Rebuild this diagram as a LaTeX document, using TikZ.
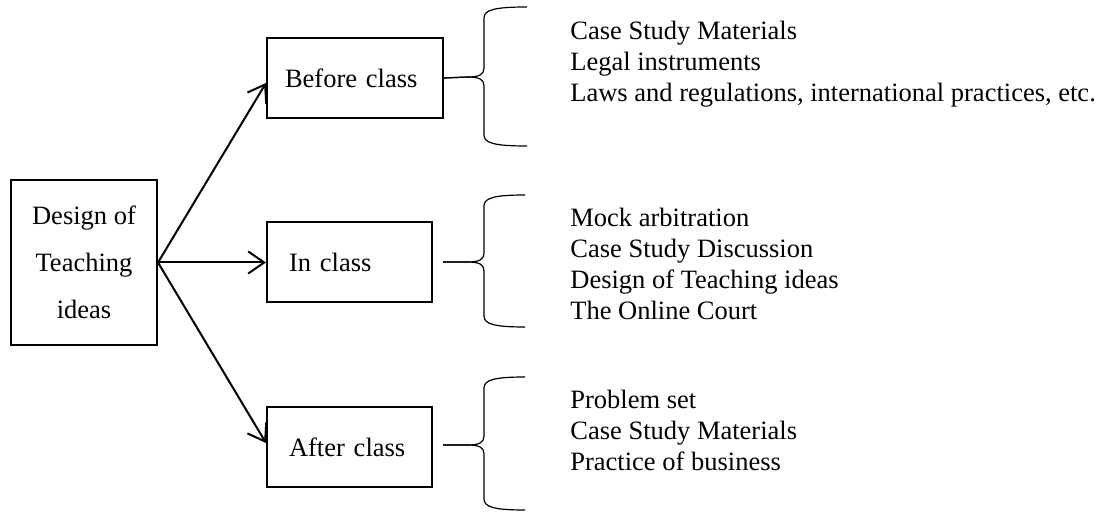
\documentclass[tikz,border=0pt]{standalone}
\usepackage{fontspec}
\setmainfont{Liberation Serif}
\usepackage{tikz}
\usetikzlibrary{arrows.meta, positioning}

\begin{document}
\begin{tikzpicture}[
  x=0.5pt, y=-0.5pt,
  every node/.style={font=\fontsize{13.25}{15.5}\selectfont},
  topic/.style={draw, line width=1pt, minimum width=73pt, minimum height=82.5pt,
                align=center, font=\fontsize{13.25}{23.5}\selectfont},
  stage/.style={draw, line width=1pt, minimum height=40pt, inner xsep=11pt, align=left},
  items/.style={anchor=base west, inner sep=0pt, align=left},
  arrow/.style={-{Straight Barb[length=8pt, width=11pt, line width=1pt]}, line width=1pt},
  brace/.style={line width=0.6pt}
]
\useasboundingbox (0,0) rectangle (1102,512);
\node[topic] (design) at (84,262.5) {Design of\\Teaching\\ideas};
\node[stage, text width=70pt, inner xsep=9pt] (before) at (355,78) {Before class};
\node[stage, text width=60.5pt] (in)     at (349.5,262.5) {In class};
\node[stage, text width=60.5pt] (after)  at (349.5,447) {After class};
\draw[arrow] (design.east) -- ([yshift=-2.5pt]before.west);
\draw[arrow] (design.east) -- (in.west);
\draw[arrow] (design.east) -- ([yshift=2pt]after.west);
% braces
\draw[brace] (before.east) -- (468,77) .. controls (480,77) and (484,74) .. (484,68) -- (484,18)
  .. controls (484,10) and (494,7) .. (527,7);
\draw[brace] (before.east) -- (468,77) .. controls (480,77) and (484,80) .. (484,86) -- (484,135)
  .. controls (484,143) and (494,146) .. (527,146);
\draw[brace] (443,262) -- (468,262) .. controls (480,262) and (484,259) .. (484,253) -- (484,206)
  .. controls (484,198) and (494,195) .. (525,195);
\draw[brace] (443,262) -- (468,262) .. controls (480,262) and (484,265) .. (484,271) -- (484,316)
  .. controls (484,324) and (494,327) .. (525,327);
\draw[brace] (443,445) -- (468,445) .. controls (480,445) and (484,442) .. (484,436) -- (484,388)
  .. controls (484,380) and (494,377) .. (525,377);
\draw[brace] (443,445) -- (468,445) .. controls (480,445) and (484,448) .. (484,454) -- (484,499)
  .. controls (484,507) and (494,510) .. (525,510);
% lists (anchored at the baseline of their last line)
\node[items] (beforelist) at (570,102) {Case Study Materials\\Legal instruments\\Laws and regulations, international practices, etc.};
\node[items] (inlist)     at (570,320) {Mock arbitration\\Case Study Discussion\\Design of Teaching ideas\\The Online Court};
\node[items] (afterlist)  at (570,471) {Problem set\\Case Study Materials\\Practice of business};
\end{tikzpicture}
\end{document}
